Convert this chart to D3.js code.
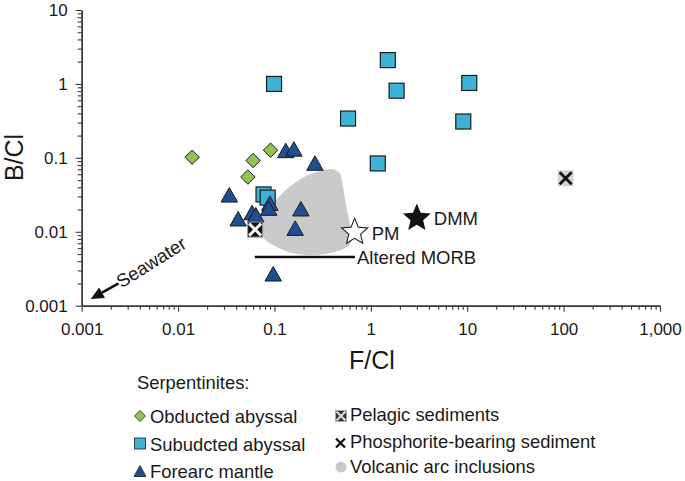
<!DOCTYPE html>
<html><head><meta charset="utf-8">
<script src="https://cdn.jsdelivr.net/npm/d3@7"></script>
<style>
body{margin:0;background:#fff;}
svg text{font-family:"Liberation Sans",Arial,sans-serif;fill:#1a1a1a;}
</style></head>
<body><svg id="c" width="685" height="481"></svg>
<script>
// ---- data ----
const xTickLabels = ["0.001","0.01","0.1","1","10","100","1,000"];
const xTickValues = [0.001,0.01,0.1,1,10,100,1000];
const yTickLabels = ["0.001","0.01","0.1","1","10"];
const yTickValues = [0.001,0.01,0.1,1,10];
// [F/Cl, B/Cl]
const obducted = [[0.014,0.102],[0.060,0.092],[0.091,0.127],[0.053,0.055]];
const subducted = [[0.099,1.0],[0.58,0.34],[1.5,2.1],[1.85,0.81],[10.5,1.03],[9.1,0.31],[1.18,0.084],[0.077,0.032],[0.085,0.029]];
const forearc = [[0.131,0.126],[0.159,0.132],[0.263,0.085],[0.034,0.0316],[0.042,0.015],[0.0586,0.0182],[0.064,0.017],[0.0895,0.0244],[0.087,0.0209],[0.188,0.0205],[0.164,0.0112],[0.097,0.0027]];
const pelagic = [[0.063,0.0107]];
const phosphorite = [[105,0.053]];
const volcanicArc = [[0.0995,0.0255],[0.137,0.0387],[0.205,0.0555],[0.305,0.0669],[0.405,0.0699],[0.474,0.0617],[0.514,0.0406],[0.557,0.0218],[0.603,0.013],[0.638,0.00855],[0.603,0.0066],[0.493,0.00565],[0.359,0.0051],[0.240,0.00484],[0.161,0.0051],[0.108,0.00615],[0.0784,0.00814],[0.0693,0.0117],[0.0753,0.0177],[0.0883,0.023]];
const alteredMORB = [[0.0625,0.00455],[0.684,0.00455]];
const PM = [0.679,0.00988];
const DMM = [3.0,0.0153];
const seawaterArrow = [[0.00241,0.0020],[0.00124,0.00123]];
const legendLeft = ["Obducted abyssal","Subudcted abyssal","Forearc mantle"];
const legendRight = ["Pelagic sediments","Phosphorite-bearing sediment","Volcanic arc inclusions"];

// ---- chart ----
const svg = d3.select("#c");
const x = d3.scaleLog().domain([0.001,1000]).range([81.7,660]);
const y = d3.scaleLog().domain([0.001,10]).range([305.7,10]);
const axisCol = "#3a3a3a";
const FONT = "'Liberation Sans',Arial,sans-serif";

function minorTicks(lo,hi){const t=[];for(let e=Math.log10(lo);e<Math.log10(hi);e++){for(let k=2;k<=9;k++)t.push(k*Math.pow(10,e));}return t;}

// x axis
const gx = svg.append("g").attr("transform","translate(0,305.7)");
gx.call(d3.axisBottom(x).tickValues(minorTicks(0.001,1000)).tickSize(4).tickSizeOuter(0).tickFormat(""));
gx.append("g").call(d3.axisBottom(x).tickValues(xTickValues).tickSize(6).tickSizeOuter(0).tickPadding(11)
  .tickFormat((d,i)=>xTickLabels[i]));
gx.selectAll("path.domain").attr("stroke",axisCol).attr("stroke-width",1.4);
gx.selectAll("line").attr("stroke",axisCol).attr("stroke-width",1.1);
gx.selectAll("text").attr("font-size",17).style("font-family",FONT).attr("fill","#1a1a1a");

// y axis
const gy = svg.append("g").attr("transform","translate(81.7,0)");
gy.call(d3.axisLeft(y).tickValues(minorTicks(0.001,10)).tickSize(4).tickSizeOuter(0).tickFormat(""));
gy.append("g").call(d3.axisLeft(y).tickValues(yTickValues).tickSize(6).tickSizeOuter(0).tickPadding(8)
  .tickFormat((d,i)=>yTickLabels[i]));
gy.selectAll("path.domain").attr("stroke",axisCol).attr("stroke-width",1.4);
gy.selectAll("line").attr("stroke",axisCol).attr("stroke-width",1.1);
gy.selectAll("text").attr("font-size",17).style("font-family",FONT).attr("fill","#1a1a1a");

// titles
svg.append("text").attr("x",372).attr("y",369).attr("text-anchor","middle").attr("font-size",25).text("F/Cl");
svg.append("text").attr("transform","translate(23,157.5) rotate(-90)").attr("text-anchor","middle").attr("font-size",25).text("B/Cl");

// volcanic arc region
svg.append("path").datum(volcanicArc)
  .attr("d",d3.line().x(d=>x(d[0])).y(d=>y(d[1])).curve(d3.curveCatmullRomClosed.alpha(0.5)))
  .attr("fill","#cacaca");

// altered MORB
svg.append("line").attr("x1",x(alteredMORB[0][0])).attr("x2",x(alteredMORB[1][0]))
  .attr("y1",y(alteredMORB[0][1])).attr("y2",y(alteredMORB[1][1])).attr("stroke","#111").attr("stroke-width",2.6);
svg.append("text").attr("x",x(alteredMORB[1][0])+2).attr("y",y(alteredMORB[1][1])+7).attr("font-size",18.5).text("Altered MORB");

// seawater arrow
const sa = seawaterArrow.map(d=>[x(d[0]),y(d[1])]);
const ang = Math.atan2(sa[1][1]-sa[0][1], sa[1][0]-sa[0][0]);
const hl=13, hw=6;
const bx = sa[1][0]-hl*Math.cos(ang), by = sa[1][1]-hl*Math.sin(ang);
svg.append("line").attr("x1",sa[0][0]).attr("y1",sa[0][1]).attr("x2",bx).attr("y2",by).attr("stroke","#111").attr("stroke-width",2.6);
svg.append("path").attr("d",`M${sa[1][0]},${sa[1][1]}L${bx+hw*Math.sin(ang)},${by-hw*Math.cos(ang)}L${bx-hw*Math.sin(ang)},${by+hw*Math.cos(ang)}Z`).attr("fill","#111");
svg.append("text").attr("transform",`translate(${sa[0][0]+3},${sa[0][1]+5}) rotate(-32)`).attr("font-size",18.5).text("Seawater");

// marker shapes
const diamondPath = s=>`M0,${-s}L${s},0L0,${s}L${-s},0Z`;
const triPath = (w,h)=>`M0,${-h/2}L${w/2},${h/2}L${-w/2},${h/2}Z`;
const strokeCol = "#1c1c1c";
const green="#92c24f", cyan="#3db3d8", navy="#1e4f93", gray="#cacaca";

svg.append("g").selectAll("path").data(obducted).join("path")
  .attr("transform",d=>`translate(${x(d[0])},${y(d[1])})`).attr("d",diamondPath(7.2))
  .attr("fill",green).attr("stroke",strokeCol).attr("stroke-width",1);
svg.append("g").selectAll("rect").data(subducted).join("rect")
  .attr("x",d=>x(d[0])-7.5).attr("y",d=>y(d[1])-7.5).attr("width",15).attr("height",15)
  .attr("fill",cyan).attr("stroke",strokeCol).attr("stroke-width",1.2);
svg.append("g").selectAll("path").data(forearc).join("path")
  .attr("transform",d=>`translate(${x(d[0])},${y(d[1])})`).attr("d",triPath(16.5,14.5))
  .attr("fill",navy).attr("stroke",strokeCol).attr("stroke-width",1);
// pelagic
const pg = svg.append("g").selectAll("g").data(pelagic).join("g").attr("transform",d=>`translate(${x(d[0])},${y(d[1])})`);
pg.append("rect").attr("x",-7.5).attr("y",-7.5).attr("width",15).attr("height",15).attr("fill","#111").attr("stroke","#999").attr("stroke-width",1);
pg.append("path").attr("d","M-6,-6L6,6M6,-6L-6,6").attr("stroke","#eee").attr("stroke-width",3);
// phosphorite
const ph = svg.append("g").selectAll("g").data(phosphorite).join("g").attr("transform",d=>`translate(${x(d[0])},${y(d[1])})`);
ph.append("rect").attr("x",-8).attr("y",-8).attr("width",16).attr("height",16).attr("fill","#d4d4d4");
ph.append("path").attr("d","M-6,-6L6,6M6,-6L-6,6").attr("stroke","#111").attr("stroke-width",2.8);

// stars
function starPath(R,r){let p="";for(let i=0;i<10;i++){const a=-Math.PI/2+i*Math.PI/5;const rr=i%2?r:R;p+=(i?"L":"M")+(rr*Math.cos(a)).toFixed(2)+","+(rr*Math.sin(a)).toFixed(2);}return p+"Z";}
svg.append("path").attr("transform",`translate(${x(PM[0])},${y(PM[1])})`).attr("d",starPath(13.8,6.2)).attr("fill","#fff").attr("stroke","#222").attr("stroke-width",1.1);
svg.append("text").attr("x",x(PM[0])+17).attr("y",y(PM[1])+8).attr("font-size",18.5).text("PM");
svg.append("path").attr("transform",`translate(${x(DMM[0])},${y(DMM[1])})`).attr("d",starPath(14.7,6.6)).attr("fill","#111");
svg.append("text").attr("x",x(DMM[0])+17).attr("y",y(DMM[1])+7).attr("font-size",18.5).text("DMM");

// legend
const LF = 18.4;
const lg = svg.append("g");
lg.append("text").attr("x",137).attr("y",389).attr("font-size",LF).text("Serpentinites:");
const rowsL=[422.5,450.5,477.5], rowsR=[421,448.3,472.5];
lg.append("path").attr("transform","translate(140,416)").attr("d",diamondPath(5.5)).attr("fill",green).attr("stroke",strokeCol).attr("stroke-width",0.8);
lg.append("rect").attr("x",134.5).attr("y",438).attr("width",11).attr("height",11).attr("fill",cyan).attr("stroke",strokeCol).attr("stroke-width",0.8);
lg.append("path").attr("transform","translate(140,471)").attr("d",triPath(12,11)).attr("fill",navy).attr("stroke",strokeCol).attr("stroke-width",0.8);
legendLeft.forEach((t,i)=>lg.append("text").attr("x",150).attr("y",rowsL[i]).attr("font-size",LF).text(t));
const lp = lg.append("g").attr("transform","translate(341,416)");
lp.append("rect").attr("x",-5.5).attr("y",-5.5).attr("width",11).attr("height",11).attr("fill","#333").attr("stroke","#aaa").attr("stroke-width",0.8);
lp.append("path").attr("d","M-4.5,-4.5L4.5,4.5M4.5,-4.5L-4.5,4.5").attr("stroke","#ddd").attr("stroke-width",2);
lg.append("path").attr("transform","translate(340.5,443)").attr("d","M-4.5,-4.5L4.5,4.5M4.5,-4.5L-4.5,4.5").attr("stroke","#111").attr("stroke-width",2.2);
lg.append("circle").attr("cx",341).attr("cy",467).attr("r",5.5).attr("fill",gray);
legendRight.forEach((t,i)=>lg.append("text").attr("x",350).attr("y",rowsR[i]).attr("font-size",LF).text(t));
</script></body></html>
